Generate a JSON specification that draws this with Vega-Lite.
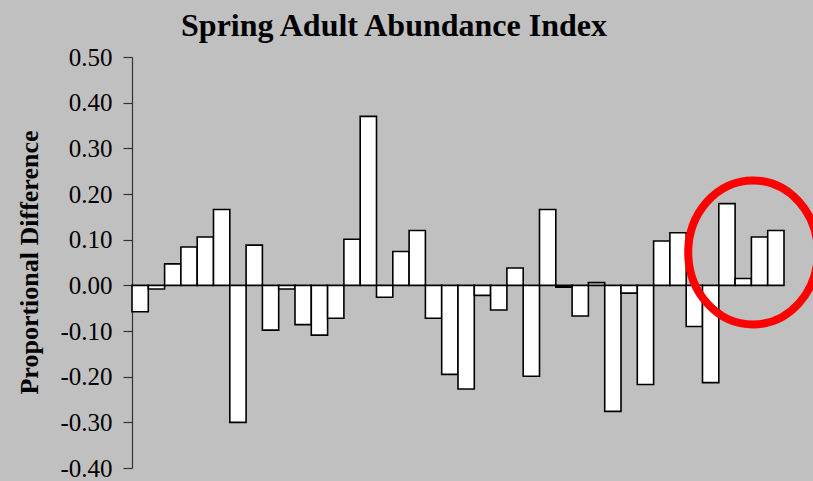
{
  "$schema": "https://vega.github.io/schema/vega-lite/v6.json",
  "width": 652,
  "height": 411,
  "autosize": {"type": "none"},
  "padding": {"left": 132, "top": 57, "right": 29, "bottom": 13},
  "background": "#C0C0C0",
  "config": {
    "view": {"stroke": null},
    "font": "Liberation Serif"
  },
  "title": {
    "text": "Spring Adult Abundance Index",
    "font": "Liberation Serif",
    "fontSize": 32,
    "fontWeight": "bold",
    "color": "#000000",
    "anchor": "middle",
    "baseline": "alphabetic",
    "offset": 21,
    "dx": -64,
    "dy": 44
  },
  "datasets": {
    "bars": [
      {"i": 1, "v": -0.058}, {"i": 2, "v": -0.008}, {"i": 3, "v": 0.047}, {"i": 4, "v": 0.084},
      {"i": 5, "v": 0.106}, {"i": 6, "v": 0.166}, {"i": 7, "v": -0.300}, {"i": 8, "v": 0.088},
      {"i": 9, "v": -0.098}, {"i": 10, "v": -0.008}, {"i": 11, "v": -0.086}, {"i": 12, "v": -0.109},
      {"i": 13, "v": -0.072}, {"i": 14, "v": 0.101}, {"i": 15, "v": 0.370}, {"i": 16, "v": -0.026},
      {"i": 17, "v": 0.074}, {"i": 18, "v": 0.120}, {"i": 19, "v": -0.072}, {"i": 20, "v": -0.195},
      {"i": 21, "v": -0.227}, {"i": 22, "v": -0.022}, {"i": 23, "v": -0.054}, {"i": 24, "v": 0.038},
      {"i": 25, "v": -0.199}, {"i": 26, "v": 0.166}, {"i": 27, "v": -0.004}, {"i": 28, "v": -0.067},
      {"i": 29, "v": 0.006}, {"i": 30, "v": -0.276}, {"i": 31, "v": -0.017}, {"i": 32, "v": -0.217},
      {"i": 33, "v": 0.097}, {"i": 34, "v": 0.115}, {"i": 35, "v": -0.090}, {"i": 36, "v": -0.213},
      {"i": 37, "v": 0.179}, {"i": 38, "v": 0.015}, {"i": 39, "v": 0.106}, {"i": 40, "v": 0.120}
    ],
    "highlight": [{"i": 38.6, "v": 0.072}]
  },
  "layer": [
    {
      "data": {"name": "bars"},
      "mark": {"type": "bar", "fill": "#FFFFFF", "stroke": "#000000", "strokeWidth": 1.6, "width": 16.3},
      "encoding": {
        "x": {"field": "i", "type": "quantitative", "scale": {"domain": [0.5, 40.5], "nice": false, "zero": false, "padding": 0}, "axis": null},
        "y": {
          "field": "v",
          "type": "quantitative",
          "scale": {"domain": [-0.4, 0.5], "nice": false, "padding": 0},
          "axis": {
            "values": [-0.4, -0.3, -0.2, -0.1, 0, 0.1, 0.2, 0.3, 0.4, 0.5],
            "labelExpr": "(datum.value < -0.00001 ? '-' : '') + format(abs(datum.value), '.2f')",
            "grid": false,
            "domainColor": "#333333",
            "domainWidth": 1.2,
            "tickColor": "#333333",
            "tickWidth": 1.2,
            "tickSize": 9,
            "labelPadding": 11,
            "labelFont": "Liberation Serif",
            "labelFontSize": 25,
            "labelColor": "#000000",
            "title": "Proportional Difference",
            "titleFont": "Liberation Serif",
            "titleFontSize": 26,
            "titleFontWeight": "bold",
            "titleColor": "#000000",
            "titleAngle": -90,
            "titleAlign": "center",
            "titleBaseline": "alphabetic",
            "titleX": -95,
            "titleY": 205
          }
        }
      }
    },
    {
      "mark": {"type": "rule", "color": "#000000", "strokeWidth": 2},
      "encoding": {"y": {"datum": 0}}
    },
    {
      "data": {"name": "highlight"},
      "mark": {
        "type": "point",
        "shape": "M -0.9 0 A 0.9 1 0 1 0 0.9 0 A 0.9 1 0 1 0 -0.9 0 Z",
        "size": 20736,
        "filled": false,
        "stroke": "#FF0000",
        "strokeWidth": 8,
        "opacity": 1,
        "strokeOpacity": 1
      },
      "encoding": {
        "x": {"field": "i", "type": "quantitative"},
        "y": {"field": "v", "type": "quantitative"}
      }
    }
  ]
}
